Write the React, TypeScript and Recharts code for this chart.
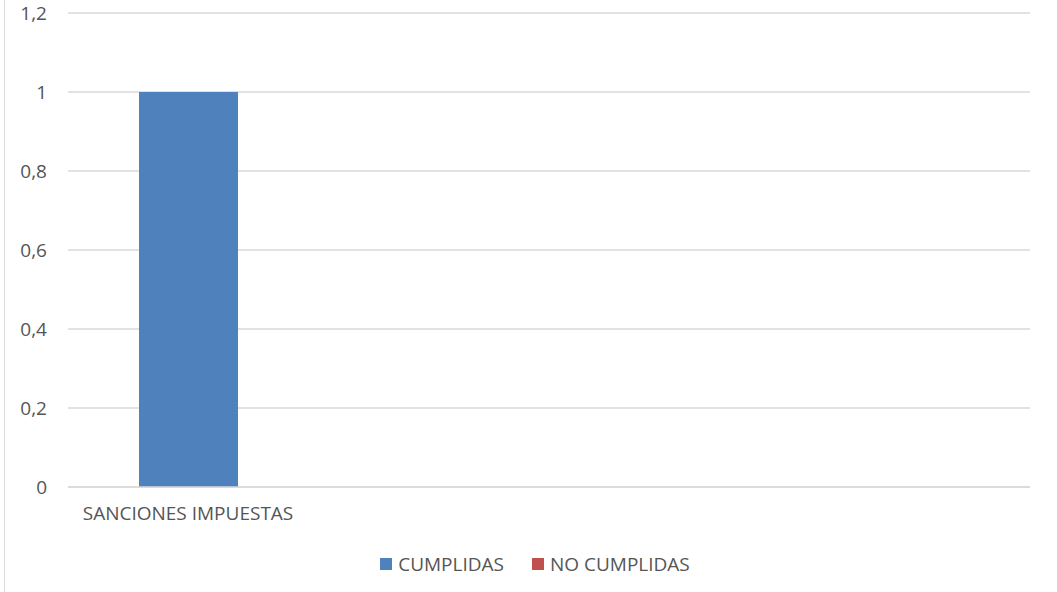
import { BarChart, Bar, XAxis, YAxis, CartesianGrid, Legend } from 'recharts'

const CATEGORIES = ['SANCIONES IMPUESTAS']
const CUMPLIDAS = [1]
const NO_CUMPLIDAS = [0]
const Y_TICKS = [0, 0.2, 0.4, 0.6, 0.8, 1, 1.2]

const BLUE = '#4F81BD'
const RED = '#C0504D'
const TEXT = '#555555'
const GRID = '#d9d9d9'
const FONT = '"Open Sans", sans-serif'
const FS = 19

const data = CATEGORIES.map((name, i) => ({
  name,
  cumplidas: CUMPLIDAS[i],
  noCumplidas: NO_CUMPLIDAS[i],
}))

const fmt = (v: number) => String(v).replace('.', ',')

function SquareLegend({ payload }: { payload?: { value: string; color: string }[] }) {
  return (
    <div
      style={{
        height: 40,
        display: 'flex',
        alignItems: 'center',
        justifyContent: 'center',
        paddingLeft: 32,
        fontFamily: FONT,
        fontSize: FS,
        color: TEXT,
        gap: 28,
      }}
    >
      {(payload ?? []).map((p) => (
        <span key={p.value} style={{ display: 'flex', alignItems: 'center', gap: 6 }}>
          <span style={{ width: 12, height: 12, background: p.color, display: 'inline-block' }} />
          {p.value}
        </span>
      ))}
    </div>
  )
}

export default function App() {
  return (
    <div
      style={{
        position: 'absolute',
        left: 0,
        top: 0,
        width: 1057,
        height: 592,
        background: '#fff',
      }}
    >
      <div style={{ position: 'absolute', left: 4, top: 0, width: 1, height: 592, background: GRID }} />
      <BarChart
        width={1057}
        height={592}
        data={data}
        margin={{ top: 13, right: 27, left: 8, bottom: 8 }}
        barSize={99}
        barGap={-99}
      >
        <CartesianGrid horizontal vertical={false} stroke={GRID} strokeWidth={1.5} />
        <XAxis
          dataKey="name"
          height={57}
          padding={{ left: 0, right: 722 }}
          axisLine={{ stroke: GRID, strokeWidth: 1.5 }}
          tickLine={false}
          tickMargin={14}
          tick={{ fill: TEXT, fontSize: FS, fontFamily: FONT }}
        />
        <YAxis
          width={60}
          domain={[0, 1.2]}
          ticks={Y_TICKS}
          tickFormatter={fmt}
          axisLine={false}
          tickLine={false}
          tickMargin={15}
          tick={{ fill: TEXT, fontSize: FS, fontFamily: FONT }}
        />
        <Legend verticalAlign="bottom" height={40} content={<SquareLegend />} />
        <Bar dataKey="cumplidas" name="CUMPLIDAS" fill={BLUE} isAnimationActive={false} />
        <Bar dataKey="noCumplidas" name="NO CUMPLIDAS" fill={RED} isAnimationActive={false} />
      </BarChart>
    </div>
  )
}
